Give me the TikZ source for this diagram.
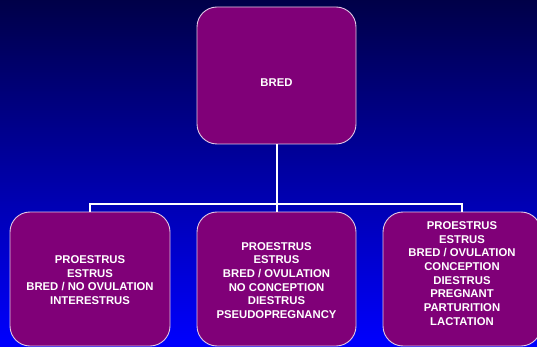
\documentclass[tikz,border=0pt]{standalone}
\usepackage{fontspec}
\setmainfont{Liberation Sans}
\definecolor{navytop}{RGB}{0,0,72}
\definecolor{bluebot}{RGB}{0,0,255}
\definecolor{boxfill}{RGB}{128,0,120}
\definecolor{boxline}{RGB}{225,200,230}
\tikzset{
  box/.style={draw=boxline, line width=0.9pt, fill=boxfill, rounded corners=20pt, inner sep=0pt},
  lbl/.style={text=white, align=center, inner sep=0pt, font=\fontsize{11.3}{13.7}\selectfont\bfseries},
  wire/.style={draw=white, line width=2pt}
}
\begin{document}
\begin{tikzpicture}[x=1pt,y=-1pt]
\shade[top color=navytop, bottom color=bluebot] (0,0) rectangle (537,347);
\useasboundingbox (0,0) rectangle (537,347);
\node[box, minimum width=159pt, minimum height=137pt] (top) at (276.5,75.5) {};
\node[box, minimum width=160pt, minimum height=134pt] (b1) at (90,279) {};
\node[box, minimum width=159pt, minimum height=134pt] (b2) at (276.5,279) {};
\node[box, minimum width=158pt, minimum height=134pt] (b3) at (462,279) {};
\coordinate (bus1) at (90,204);
\coordinate (bus3) at (462,204);
\coordinate (busm) at (276.5,204);
\draw[wire] (top.south) -- (b2.north);
\draw[wire] (b1.north) -- (bus1) -- (bus3) -- (b3.north);
\node[lbl] (t0) at (276.5,82.5) {BRED};
\node[lbl] (t1) at (90,280) {PROESTRUS\\ESTRUS\\BRED / NO OVULATION\\INTERESTRUS};
\node[lbl] (t2) at (276.5,280.5) {PROESTRUS\\ESTRUS\\BRED / OVULATION\\NO CONCEPTION\\DIESTRUS\\PSEUDOPREGNANCY};
\node[lbl] (t3) at (462,273.5) {PROESTRUS\\ESTRUS\\BRED / OVULATION\\CONCEPTION\\DIESTRUS\\PREGNANT\\PARTURITION\\LACTATION};
\end{tikzpicture}
\end{document}
